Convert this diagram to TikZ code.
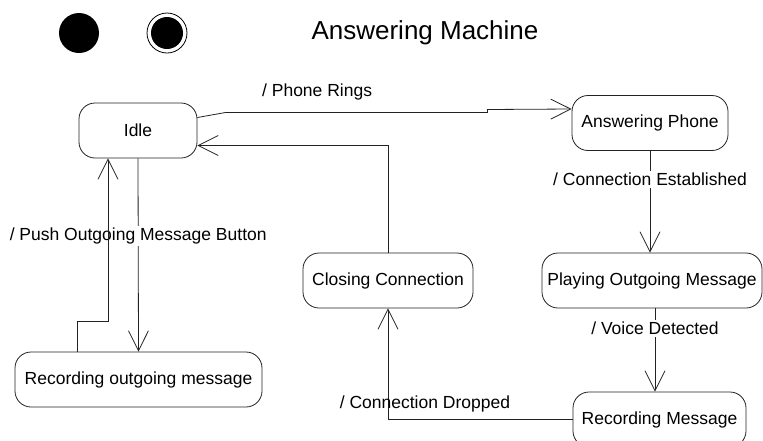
\documentclass[tikz,border=0pt]{standalone}
\usepackage{fontspec}
\setmainfont{Liberation Sans}
\definecolor{amline}{HTML}{222222}
\usetikzlibrary{arrows.meta,positioning}

\begin{document}
\begin{tikzpicture}[x=1pt,y=-1pt,font=\fontsize{17.5}{20}\selectfont]
        \tikzset{
            amstate/.style={
                draw=amline,
                fill=white,
                rounded corners=16pt,
                line width=0.8pt,
                minimum height=55pt,
                inner sep=2pt,
                align=center
            },
            amtrans/.style={
                -{Straight Barb[length=20pt,width=20pt,line width=0.8pt]},
                draw=amline,
                line width=0.8pt
            },
            amlabel/.style={
                fill=white,
                inner sep=2pt
            }
        }
        \useasboundingbox (0,0) rectangle (763,440);

        % initial and final pseudo states
        \node[circle,fill=black,minimum size=40pt,inner sep=0pt] (init) at (79,33) {};
        \node[circle,draw=black,line width=0.8pt,minimum size=40pt,inner sep=0pt] (final) at (167,33) {};
        \fill (final.center) circle (16pt);

        \node[font=\fontsize{26}{30}\selectfont] (title) at (425,33) {Answering Machine};

        \node[amstate,minimum width=118pt] (idle) at (138,130.5) {Idle};
        \node[amstate,minimum width=156pt] (answer) at (650,123) {Answering Phone};
        \node[amstate,minimum width=170pt] (closing) at (388,280.5) {Closing Connection};
        \node[amstate,minimum width=220pt] (playing) at (652,280.5) {Playing Outgoing Message};
        \node[amstate,minimum width=173pt] (recmsg) at (659.5,419.5) {Recording Message};
        \node[amstate,minimum width=247pt] (recout) at (138.5,379.5) {Recording outgoing message};

        \draw[amtrans] ([yshift=13pt]idle.east) -- ++(28,-5) -- ++(262,0)
            node[above=9pt,pos=0.35]{/ Phone Rings}
            -- ++(0,-3) -- ([yshift=14pt]answer.west);
        \draw[amtrans] (closing.north) |- ([yshift=-15pt]idle.east);

        \draw[amtrans] (answer.south) --
            node[amlabel,pos=0.28]{/ Connection Established} (answer.south |- playing.north);
        \draw[amtrans] ([xshift=3pt]playing.south) --
            node[amlabel,pos=0.24]{/ Voice Detected} ([xshift=3pt]playing.south |- recmsg.north);
        \draw[amtrans] (recmsg.west) -|
            node[above=4pt,pos=0.4]{/ Connection Dropped} (closing.south);

        \draw[amtrans] (idle.south) --
            node[amlabel,pos=0.4]{/ Push Outgoing Message Button} (recout.north);
        \draw[amtrans] ([xshift=-61pt]recout.north) -- ++(0,-30) -| ([xshift=-30pt]idle.south);
    \end{tikzpicture}
\end{document}
